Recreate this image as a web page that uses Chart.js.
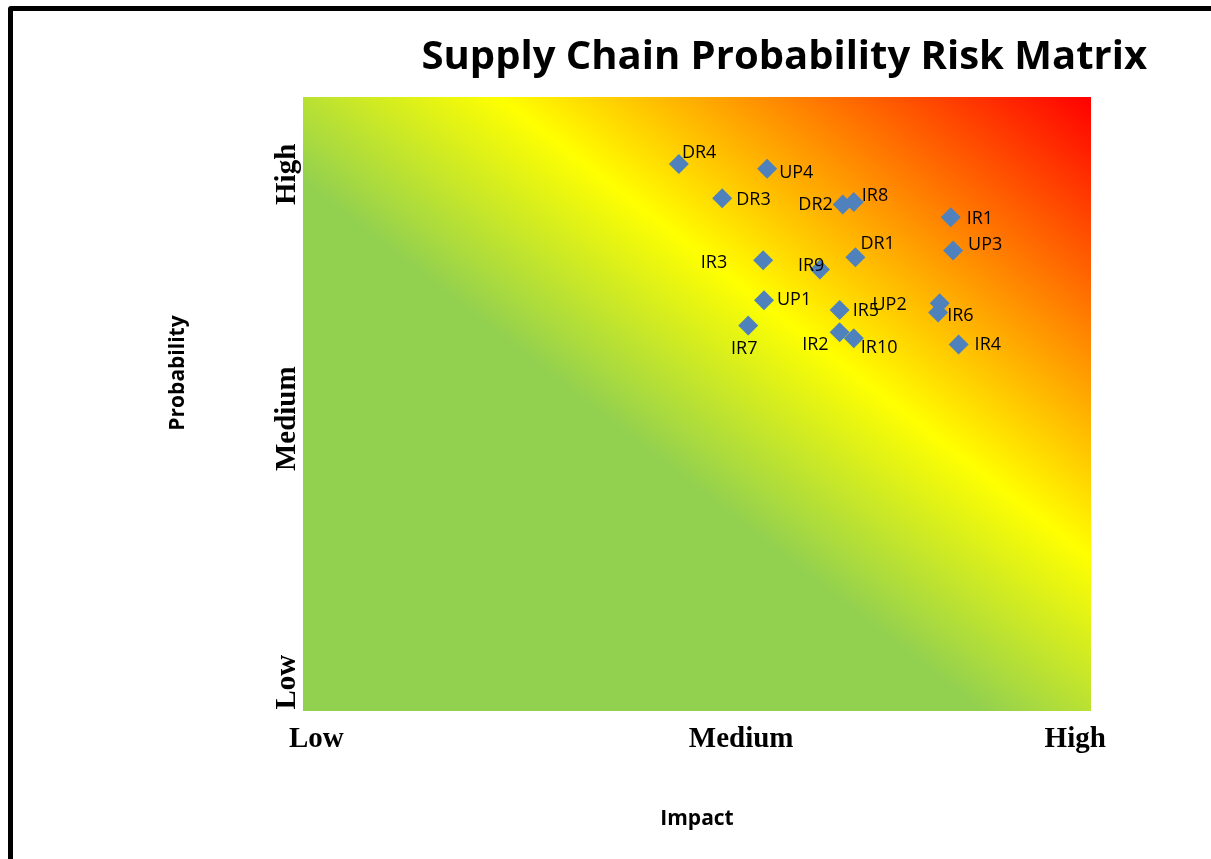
<!DOCTYPE html>
<html>
<head>
<meta charset="utf-8">
<title>Supply Chain Probability Risk Matrix</title>
<script src="https://cdn.jsdelivr.net/npm/chart.js@4.4.1/dist/chart.umd.min.js"></script>
<style>
    html, body { margin: 0; padding: 0; background: #fff; overflow: hidden; }
    #wrap { position: relative; width: 1211px; height: 859px; }
    #frame { position: absolute; left: 8px; top: 6px; width: 1300px; height: 1000px; border: 5px solid #000; border-radius: 3px; box-sizing: border-box; }
    #grafico { position: absolute; left: 0; top: 0; }
</style>
</head>
<body>
<div id="wrap">
    <div id="frame"></div>
    <canvas id="grafico" width="1211" height="859"></canvas>
</div>
<script>
// 1. DADOS
const riskNames = ['DR4', 'UP4', 'DR3', 'DR2', 'IR8', 'IR1', 'UP3', 'DR1', 'IR3', 'IR9', 'UP1', 'IR5', 'UP2', 'IR6', 'IR7', 'IR2', 'IR10', 'IR4'];
const impactValues = [4.77, 5.89, 5.32, 6.85, 6.99, 8.22, 8.25, 7.01, 5.84, 6.56, 5.85, 6.81, 8.08, 8.06, 5.65, 6.81, 6.99, 8.32];
const probabilityValues = [8.91, 8.83, 8.35, 8.25, 8.29, 8.04, 7.50, 7.39, 7.34, 7.19, 6.69, 6.53, 6.64, 6.49, 6.28, 6.17, 6.07, 5.97];

const levelLabels = ['Low', 'Medium', 'High'];
const impactTicks = [0.17, 5.56, 9.80];
const probabilityTicks = [0.47, 4.76, 8.74];

// posição dos rótulos de cada ponto (dx, dy, alinhamento)
const labelOffsets = [
    [3, -11, 'left'], [12, 4, 'left'], [14, 2, 'left'], [-10, 0, 'right'], [8, -6, 'left'], [16, 2, 'left'],
    [15, -6, 'left'], [5, -13, 'left'], [-36, 3, 'right'], [-22, -4, 'left'], [13, 0, 'left'], [13, 1, 'left'],
    [-33, 2, 'right'], [9, 3, 'left'], [-4, 23, 'center'], [-11, 13, 'right'], [7, 10, 'left'], [16, 0, 'left']
];

const fonteSerif = '"Liberation Serif", "Times New Roman", serif';

// 2. FUNDO EM DEGRADÊ (verde -> amarelo -> vermelho)
const fundoGradiente = {
    id: 'fundoGradiente',
    beforeDatasetsDraw(chart) {
        const { ctx, chartArea: a } = chart;
        const w = a.right - a.left, h = a.bottom - a.top;
        const gx = 1 / (2 * w), gy = 1 / (2 * h), n = gx * gx + gy * gy;
        const g = ctx.createLinearGradient(a.left, a.bottom, a.left + gx / n, a.bottom - gy / n);
        g.addColorStop(0, '#92D050');
        g.addColorStop(0.43, '#92D050');
        g.addColorStop(0.625, '#FFFF00');
        g.addColorStop(1, '#FF0000');
        ctx.save();
        ctx.fillStyle = g;
        ctx.fillRect(a.left, a.top, w, h);
        ctx.restore();
    }
};

// 3. RÓTULOS DOS PONTOS + TÍTULOS + RÓTULOS VERTICAIS DO EIXO Y
const rotulos = {
    id: 'rotulos',
    afterDatasetsDraw(chart) {
        const ctx = chart.ctx;
        const meta = chart.getDatasetMeta(0);
        ctx.save();
        ctx.font = '18px "Open Sans"';
        ctx.fillStyle = '#000';
        ctx.textBaseline = 'middle';
        meta.data.forEach((pt, i) => {
            const [dx, dy, al] = labelOffsets[i];
            ctx.textAlign = al;
            ctx.fillText(riskNames[i], pt.x + dx, pt.y + dy);
        });
        ctx.restore();
    },
    afterDraw(chart) {
        const { ctx, chartArea: a } = chart;
        ctx.save();
        ctx.fillStyle = '#000';
        ctx.font = 'bold 40px "Open Sans"';
        ctx.textAlign = 'right';
        ctx.textBaseline = 'alphabetic';
        ctx.fillText('Supply Chain Probability Risk Matrix', a.right + 56, a.top - 28);

        // ticks do eixo y, girados 90 graus
        const ys = chart.scales.y;
        ctx.font = 'bold 29px ' + fonteSerif;
        ctx.textAlign = 'center';
        ys.ticks.forEach((t, i) => {
            ctx.save();
            ctx.translate(a.left - 8, ys.getPixelForValue(t.value));
            ctx.rotate(-Math.PI / 2);
            ctx.fillText(t.label || levelLabels[i], 0, 0);
            ctx.restore();
        });

        ctx.translate(a.left - 125, a.top + 276);
        ctx.rotate(-Math.PI / 2);
        ctx.font = 'bold 21px "Open Sans"';
        ctx.textBaseline = 'middle';
        ctx.fillText('Probability', 0, 0);
        ctx.restore();
    }
};

// 4. GRÁFICO
new Chart(document.getElementById('grafico').getContext('2d'), {
    type: 'scatter',
    data: {
        datasets: [{
            data: impactValues.map((x, i) => ({ x: x, y: probabilityValues[i] })),
            pointStyle: 'rectRot',
            pointRadius: 10,
            pointHoverRadius: 10,
            backgroundColor: '#4F81BD',
            borderColor: '#4F81BD',
            borderWidth: 0
        }]
    },
    options: {
        responsive: false,
        animation: false,
        layout: { padding: { left: 303, right: 120, top: 97, bottom: 23 } },
        plugins: { legend: { display: false }, tooltip: { enabled: false } },
        scales: {
            x: {
                type: 'linear', min: 0, max: 10,
                grid: { display: false, drawTicks: false },
                border: { display: false },
                afterBuildTicks: (s) => { s.ticks = impactTicks.map(v => ({ value: v })); },
                ticks: {
                    autoSkip: false, maxRotation: 0, padding: 11, color: '#000',
                    font: { family: fonteSerif, size: 29, weight: 'bold' },
                    callback: (v, i) => levelLabels[i]
                },
                title: {
                    display: true, text: 'Impact', color: '#000',
                    padding: { top: 39, bottom: 4 },
                    font: { family: '"Open Sans"', size: 21, weight: 'bold' }
                }
            },
            y: {
                type: 'linear', min: 0, max: 10,
                grid: { display: false, drawTicks: false },
                border: { display: false },
                afterBuildTicks: (s) => { s.ticks = probabilityTicks.map(v => ({ value: v })); },
                afterFit: (s) => { s.width = 0; },
                ticks: { display: false, autoSkip: false, callback: (v, i) => levelLabels[i] }
            }
        }
    },
    plugins: [fundoGradiente, rotulos]
});
</script>
</body>
</html>
